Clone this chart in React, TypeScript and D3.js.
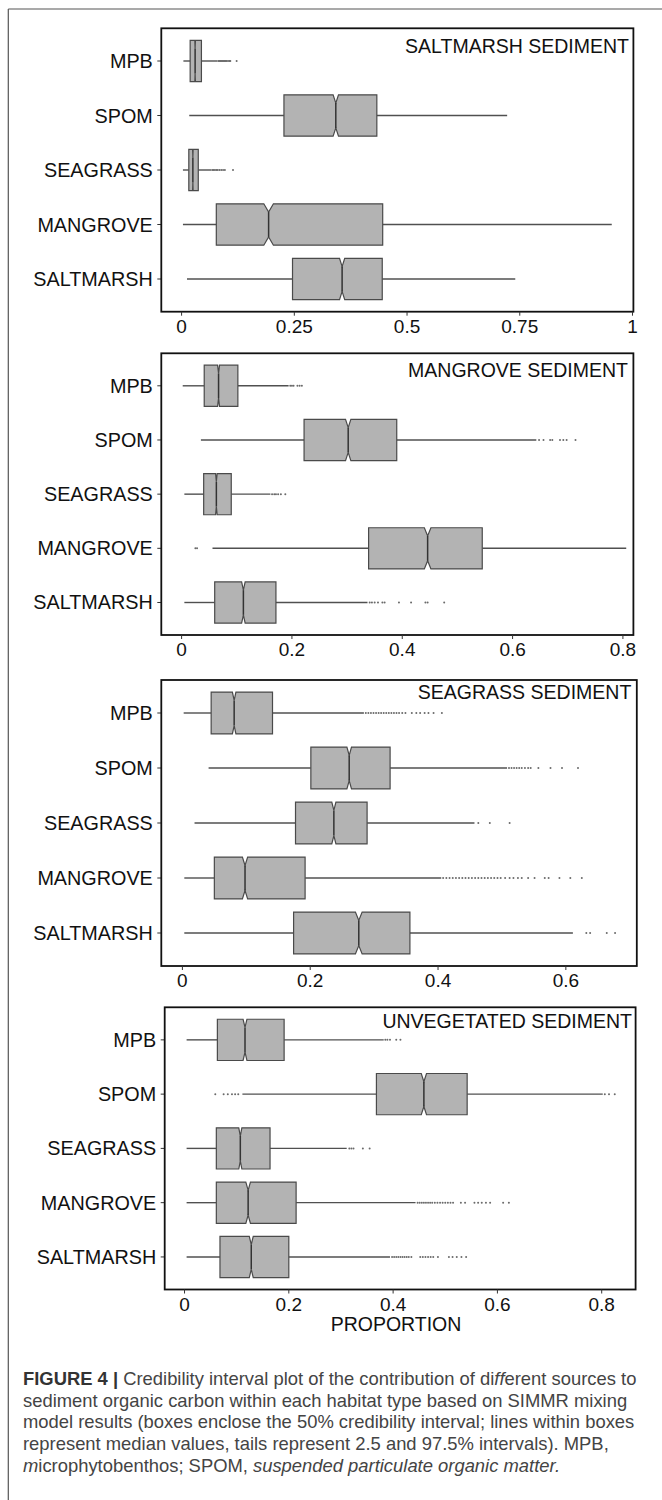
import React from "react";
import * as d3 from "d3";

// Sources (rows) shared by every habitat panel
const sources = ["MPB", "SPOM", "SEAGRASS", "MANGROVE", "SALTMARSH"];

// Habitat panel titles
const habitats = [
  "SALTMARSH SEDIMENT",
  "MANGROVE SEDIMENT",
  "SEAGRASS SEDIMENT",
  "UNVEGETATED SEDIMENT",
];

// Saltmarsh sediment: 2.5%, 25%, 50%, 75%, 97.5% per source
const saltLow = [0.004, 0.017, 0.003, 0.003, 0.012];
const saltQ1 = [0.019, 0.227, 0.016, 0.077, 0.246];
const saltMed = [0.03, 0.342, 0.025, 0.193, 0.356];
const saltQ3 = [0.044, 0.433, 0.037, 0.446, 0.445];
const saltHigh = [0.08, 0.722, 0.066, 0.954, 0.74];
const saltOut = [
  [0.082, 0.084, 0.086, 0.088, 0.09, 0.092, 0.094, 0.096, 0.098, 0.1, 0.103, 0.106, 0.108, 0.122],
  [],
  [0.068, 0.071, 0.074, 0.077, 0.08, 0.084, 0.088, 0.092, 0.096, 0.114],
  [],
  [],
];

// Mangrove sediment
const mangLow = [0.002, 0.035, 0.005, 0.056, 0.005];
const mangQ1 = [0.041, 0.222, 0.04, 0.339, 0.06];
const mangMed = [0.067, 0.302, 0.063, 0.446, 0.112];
const mangQ3 = [0.102, 0.39, 0.09, 0.545, 0.171];
const mangHigh = [0.194, 0.643, 0.161, 0.806, 0.337];
const mangOut = [
  [0.197, 0.2, 0.203, 0.21, 0.214, 0.218],
  [0.648, 0.656, 0.668, 0.672, 0.686, 0.692, 0.698, 0.714],
  [0.164, 0.168, 0.171, 0.175, 0.18, 0.188],
  [0.025, 0.028],
  [0.341, 0.345, 0.35, 0.356, 0.364, 0.368, 0.394, 0.416, 0.442, 0.446, 0.476],
];

// Seagrass sediment
const seaLow = [0.002, 0.041, 0.019, 0.003, 0.003];
const seaQ1 = [0.045, 0.201, 0.177, 0.05, 0.174];
const seaMed = [0.081, 0.261, 0.237, 0.098, 0.276];
const seaQ3 = [0.141, 0.325, 0.289, 0.192, 0.356];
const seaHigh = [0.284, 0.508, 0.457, 0.405, 0.611];
const seaOut = [
  [0.287, 0.291, 0.295, 0.299, 0.303, 0.307, 0.311, 0.315, 0.319, 0.323, 0.327, 0.331, 0.335, 0.339, 0.344, 0.349, 0.359, 0.366, 0.372, 0.379, 0.385, 0.393, 0.406],
  [0.511, 0.515, 0.519, 0.523, 0.527, 0.531, 0.536, 0.541, 0.545, 0.557, 0.576, 0.594, 0.619],
  [0.463, 0.481, 0.512],
  [0.408, 0.413, 0.418, 0.423, 0.428, 0.433, 0.438, 0.443, 0.448, 0.453, 0.458, 0.463, 0.468, 0.473, 0.478, 0.483, 0.488, 0.493, 0.498, 0.505, 0.512, 0.518, 0.525, 0.531, 0.541, 0.551, 0.567, 0.573, 0.59, 0.607, 0.625],
  [0.632, 0.638, 0.664, 0.677],
];

// Unvegetated sediment
const unvLow = [0.004, 0.111, 0.004, 0.004, 0.004];
const unvQ1 = [0.063, 0.368, 0.061, 0.061, 0.068];
const unvMed = [0.116, 0.459, 0.107, 0.122, 0.128];
const unvQ3 = [0.191, 0.542, 0.164, 0.214, 0.2];
const unvHigh = [0.382, 0.802, 0.311, 0.443, 0.394];
const unvOut = [
  [0.385, 0.389, 0.394, 0.406, 0.414],
  [0.059, 0.075, 0.083, 0.091, 0.097, 0.103, 0.806, 0.814, 0.825],
  [0.316, 0.32, 0.324, 0.342, 0.355],
  [0.447, 0.451, 0.455, 0.459, 0.463, 0.467, 0.471, 0.475, 0.48, 0.485, 0.49, 0.495, 0.5, 0.505, 0.51, 0.515, 0.53, 0.538, 0.556, 0.563, 0.57, 0.578, 0.586, 0.611, 0.622],
  [0.398, 0.402, 0.406, 0.41, 0.414, 0.418, 0.422, 0.426, 0.43, 0.435, 0.452, 0.457, 0.462, 0.467, 0.472, 0.477, 0.486, 0.507, 0.514, 0.522, 0.531, 0.54],
];

// Axis ticks per panel
const ticks1 = [0, 0.25, 0.5, 0.75, 1];
const tickLabels1 = ["0", "0.25", "0.5", "0.75", "1"];
const ticks2 = [0, 0.2, 0.4, 0.6, 0.8];
const tickLabels2 = ["0", "0.2", "0.4", "0.6", "0.8"];
const ticks3 = [0, 0.2, 0.4, 0.6];
const tickLabels3 = ["0", "0.2", "0.4", "0.6"];
const ticks4 = [0, 0.2, 0.4, 0.6, 0.8];
const tickLabels4 = ["0", "0.2", "0.4", "0.6", "0.8"];

// Posterior draws per source, used for the notch half-width
const sampleSize = 3000;

const panelData = [
  { low: saltLow, q1: saltQ1, med: saltMed, q3: saltQ3, high: saltHigh, out: saltOut, ticks: ticks1, labels: tickLabels1 },
  { low: mangLow, q1: mangQ1, med: mangMed, q3: mangQ3, high: mangHigh, out: mangOut, ticks: ticks2, labels: tickLabels2 },
  { low: seaLow, q1: seaQ1, med: seaMed, q3: seaQ3, high: seaHigh, out: seaOut, ticks: ticks3, labels: tickLabels3 },
  { low: unvLow, q1: unvQ1, med: unvMed, q3: unvQ3, high: unvHigh, out: unvOut, ticks: ticks4, labels: tickLabels4 },
];

// Panel frames and x-domain limits
const layout = [
  { left: 161.3, right: 633.4, top: 28.3, bottom: 311.7, xmin: -0.045, xmax: 1.002, titleX: 629, titleY: 52.7 },
  { left: 161.3, right: 633.4, top: 353.3, bottom: 635, xmin: -0.0368, xmax: 0.819, titleX: 628, titleY: 376.7 },
  { left: 161.3, right: 636.8, top: 680, bottom: 966, xmin: -0.033, xmax: 0.711, titleX: 631.3, titleY: 699.3 },
  { left: 164.7, right: 635.6, top: 1007.3, bottom: 1289.5, xmin: -0.038, xmax: 0.865, titleX: 632, titleY: 1028.3 },
];

const FONT = "'Liberation Sans', Arial, Helvetica, sans-serif";

function Panel({ idx }: { idx: number }) {
  const L = layout[idx];
  const D = panelData[idx];
  const x = d3.scaleLinear().domain([L.xmin, L.xmax]).range([L.left, L.right]);
  const y = d3.scalePoint<string>().domain(sources).range([L.top, L.bottom]).padding(0.6);
  const step = y.step();
  const bh = step * 0.76;
  const depth = bh * 0.2;

  return (
    <g>
      {/* category ticks and labels */}
      {sources.map((s) => (
        <g key={s}>
          <line x1={L.left - 4} x2={L.left} y1={y(s)} y2={y(s)} stroke="#333" strokeWidth={1} />
          <text x={L.left - 8.5} y={(y(s) as number) + 7} textAnchor="end" fontSize={19.8} fill="#111" fontFamily={FONT}>
            {s}
          </text>
        </g>
      ))}
      {/* boxes */}
      {sources.map((s, i) => {
        const cy = y(s) as number;
        const top = cy - bh / 2;
        const bot = cy + bh / 2;
        const iqr = D.q3[i] - D.q1[i];
        const notch = (1.58 * iqr) / Math.sqrt(sampleSize);
        const xq1 = x(D.q1[i]);
        const xq3 = x(D.q3[i]);
        const xm = x(D.med[i]);
        const nl = x(D.med[i] - notch);
        const nu = x(D.med[i] + notch);
        const path = d3.path();
        path.moveTo(xq1, top);
        path.lineTo(nl, top);
        path.lineTo(xm, top + depth);
        path.lineTo(nu, top);
        path.lineTo(xq3, top);
        path.lineTo(xq3, bot);
        path.lineTo(nu, bot);
        path.lineTo(xm, bot - depth);
        path.lineTo(nl, bot);
        path.lineTo(xq1, bot);
        path.closePath();
        return (
          <g key={s}>
            <line x1={x(D.low[i])} x2={xq1} y1={cy} y2={cy} stroke="#505050" strokeWidth={1.4} />
            <line x1={xq3} x2={x(D.high[i])} y1={cy} y2={cy} stroke="#505050" strokeWidth={1.4} />
            {D.out[i].map((v, k) => (
              <circle key={k} cx={x(v)} cy={cy} r={1} fill="#6a6a6a" />
            ))}
            <path d={path.toString()} fill="#b3b3b3" stroke="#4a4a4a" strokeWidth={1.2} />
            <line x1={xm} x2={xm} y1={top + depth} y2={bot - depth} stroke="#333" strokeWidth={1.5} />
          </g>
        );
      })}
      {/* frame */}
      <rect x={L.left} y={L.top} width={L.right - L.left} height={L.bottom - L.top} fill="none" stroke="#111" strokeWidth={1.8} />
      {/* x ticks */}
      {D.ticks.map((t, k) => (
        <g key={t}>
          <line x1={x(t)} x2={x(t)} y1={L.bottom} y2={L.bottom + 4} stroke="#333" strokeWidth={1} />
          <text x={x(t)} y={L.bottom + 21} textAnchor="middle" fontSize={19} fill="#111" fontFamily={FONT}>
            {D.labels[k]}
          </text>
        </g>
      ))}
      <text x={L.titleX} y={L.titleY} textAnchor="end" fontSize={19.5} fill="#111" fontFamily={FONT}>
        {habitats[idx]}
      </text>
    </g>
  );
}

export default function App() {
  const capY = [1385, 1406.7, 1428.4, 1450.1, 1471.8];
  const capStyle = { fontSize: 18.4, fill: "#444", fontFamily: FONT };
  return (
    <svg
      width={662}
      height={1500}
      style={{ position: "absolute", left: 0, top: 0, background: "#fff" }}
    >
      <rect x={0} y={0} width={662} height={1500} fill="#fff" />
      {/* page border */}
      <line x1={8.3} x2={662} y1={9} y2={9} stroke="#555" strokeWidth={1.2} />
      <line x1={8.3} x2={8.3} y1={9} y2={1500} stroke="#555" strokeWidth={1.2} />
      {[0, 1, 2, 3].map((i) => (
        <Panel key={i} idx={i} />
      ))}
      <text x={396} y={1330.5} textAnchor="middle" fontSize={19.5} fill="#111" fontFamily={FONT}>
        PROPORTION
      </text>
      {/* caption */}
      <text x={23} y={capY[0]} {...capStyle}>
        <tspan fontWeight="bold" fill="#333">FIGURE 4 |</tspan>
        <tspan> Credibility interval plot of the contribution of di</tspan>
        <tspan fontStyle="italic">ff</tspan>
        <tspan>erent sources to</tspan>
      </text>
      <text x={23} y={capY[1]} {...capStyle}>
        sediment organic carbon within each habitat type based on SIMMR mixing
      </text>
      <text x={23} y={capY[2]} {...capStyle}>
        model results (boxes enclose the 50% credibility interval; lines within boxes
      </text>
      <text x={23} y={capY[3]} {...capStyle}>
        represent median values, tails represent 2.5 and 97.5% intervals). MPB,
      </text>
      <text x={23} y={capY[4]} {...capStyle}>
        <tspan fontStyle="italic">m</tspan>
        <tspan>icrophytobenthos; SPOM, </tspan>
        <tspan fontStyle="italic">suspended particulate organic matter.</tspan>
      </text>
    </svg>
  );
}
